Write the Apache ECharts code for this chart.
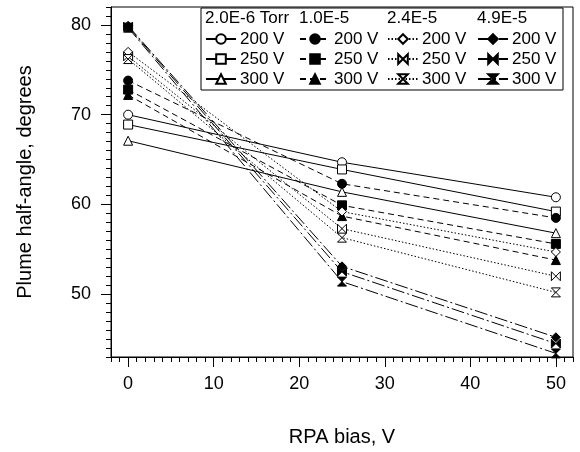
<!DOCTYPE html>
<html><head><meta charset="utf-8">
<script src="https://cdn.jsdelivr.net/npm/echarts@6/dist/echarts.min.js"></script>
<style>html,body{margin:0;padding:0;background:#fff}#c{width:580px;height:452px}</style>
</head><body><div id="c"></div>
<script>
// ---- data ----
const biasV = [0, 25, 50];
const pressures = ['2.0E-6 Torr', '1.0E-5', '2.4E-5', '4.9E-5'];
const voltages = ['200 V', '250 V', '300 V'];
const p20e6_200 = [70.0, 64.7, 60.8];
const p20e6_250 = [68.9, 63.9, 59.2];
const p20e6_300 = [67.1, 61.4, 56.8];
const p10e5_200 = [73.8, 62.3, 58.5];
const p10e5_250 = [72.8, 59.9, 55.6];
const p10e5_300 = [72.2, 58.7, 53.8];
const p24e5_200 = [77.0, 59.2, 54.7];
const p24e5_250 = [76.5, 57.3, 52.0];
const p24e5_300 = [76.2, 56.3, 50.2];
const p49e5_200 = [79.9, 53.1, 45.2];
const p49e5_250 = [79.8, 52.5, 44.5];
const p49e5_300 = [79.7, 51.4, 43.4];
const xTicks = [0, 10, 20, 30, 40, 50];
const yTicks = [50, 60, 70, 80];

// ---- styles ----
const bowtie = 'path://M0,0L10,10L10,0L0,10Z';
const hourglass = 'path://M0,0L10,0L0,10L10,10Z';
const FONT = 'Liberation Sans';
const groups = [
  {vals: [p20e6_200, p20e6_250, p20e6_300], sym: ['circle', 'rect', 'triangle'], fill: '#fff', line: 'solid'},
  {vals: [p10e5_200, p10e5_250, p10e5_300], sym: ['circle', 'rect', 'triangle'], fill: '#000', line: [6, 4]},
  {vals: [p24e5_200, p24e5_250, p24e5_300], sym: ['diamond', bowtie, hourglass], fill: '#fff', line: [1.5, 2]},
  {vals: [p49e5_200, p49e5_250, p49e5_300], sym: ['diamond', bowtie, hourglass], fill: '#000', line: [13, 3, 2, 3]}
];
const series = [];
const legends = [];
const legendLeft = [205, 299, 387, 477];
groups.forEach((g, gi) => {
  const names = [];
  g.vals.forEach((v, vi) => {
    const name = pressures[gi] + '|' + voltages[vi];
    names.push(name);
    series.push({
      name: name, type: 'line',
      data: biasV.map((x, i) => [x, v[i]]),
      symbol: g.sym[vi], symbolSize: 9,
      lineStyle: {color: '#000', width: 1, type: g.line},
      itemStyle: {color: g.fill, borderColor: '#000', borderWidth: 1},
      emphasis: {disabled: true}, animation: false
    });
  });
  legends.push({
    data: names, orient: 'vertical', left: legendLeft[gi], top: 29,
    itemWidth: 30, itemHeight: 12, itemGap: 0, selectedMode: false,
    formatter: n => n.split('|')[1],
    textStyle: {fontSize: 17, color: '#000', fontFamily: FONT, lineHeight: 20, padding: [0, 0, 0, -1]},
    padding: 0
  });
});
const headerGraphics = pressures.map((p, i) => ({
  type: 'text', left: legendLeft[i], top: 10,
  style: {text: p, font: '17px "Liberation Sans"', fill: '#000'}
}));

function mainAxisCommon(ticks) {
  return {
    axisLine: {show: true, onZero: false, lineStyle: {color: '#000', width: 1}},
    axisTick: {show: true, customValues: ticks, length: 10, lineStyle: {color: '#000'}},
    splitLine: {show: false}
  };
}
function minorAxis(min, max, pos) {
  return {type: 'value', min: min, max: max, interval: 1, position: pos,
    axisLine: {show: false, onZero: false}, axisTick: {show: true, inside: false, length: 5, lineStyle: {color: '#000'}},
    axisLabel: {show: false}, splitLine: {show: false}};
}

const chart = echarts.init(document.getElementById('c'), null, {renderer: 'canvas'});
chart.setOption({
  backgroundColor: '#fff',
  animation: false,
  grid: {left: 111, top: 7, width: 462, height: 352, show: true, borderColor: '#000', borderWidth: 1, backgroundColor: 'transparent'},
  xAxis: [
    Object.assign({type: 'value', min: -2, max: 52, position: 'bottom',
     axisLabel: {customValues: xTicks, fontSize: 18, color: '#000', fontFamily: FONT, margin: 18},
     name: 'RPA bias, V', nameLocation: 'middle', nameGap: 70,
     nameTextStyle: {fontSize: 20, color: '#000', fontFamily: FONT}}, mainAxisCommon(xTicks)),
    minorAxis(-2, 52, 'bottom')
  ],
  yAxis: [
    Object.assign({type: 'value', min: 43, max: 82, position: 'left',
     axisLabel: {customValues: yTicks, fontSize: 18, color: '#000', fontFamily: FONT, margin: 20},
     name: 'Plume half-angle, degrees', nameLocation: 'middle', nameGap: 76, nameRotate: 90,
     nameTextStyle: {fontSize: 20, color: '#000', fontFamily: FONT}}, mainAxisCommon(yTicks)),
    minorAxis(43, 82, 'left')
  ],
  legend: legends,
  graphic: [
    {type: 'rect', shape: {x: 201, y: 8, width: 362, height: 82}, style: {fill: '#fff', stroke: '#000', lineWidth: 1}, z: 0, z2: -1},
    ...headerGraphics
  ],
  series: series
});
</script></body></html>
